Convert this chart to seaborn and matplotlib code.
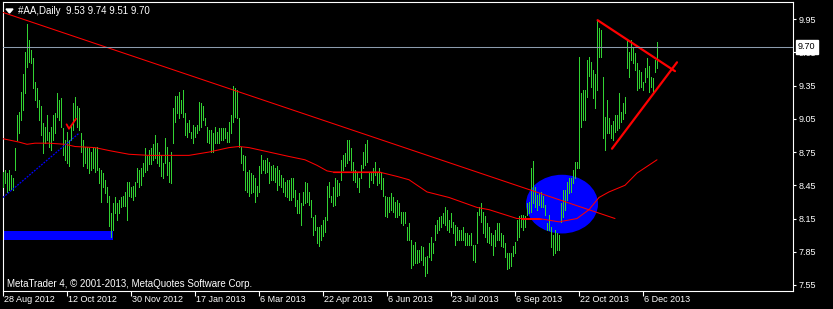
import matplotlib
matplotlib.use("Agg")
import matplotlib.pyplot as plt
import matplotlib.transforms as mtransforms
from matplotlib.patches import Ellipse, Rectangle, Polygon
import numpy as np
import pandas as pd
import seaborn as sns

# ---------------- data ----------------
highs = [
    8.57,8.59,8.56,8.59,8.54,8.52,8.79,9.08,9.11,9.29,9.45,9.65,9.91,9.76,9.67,9.60,9.38,9.33,9.22,9.17,9.01,8.98,9.08,8.93,8.98,9.08,9.10,9.28,9.22,9.24,8.97,8.86,8.93,8.86,8.99,9.19,9.25,9.17,9.15,8.92,8.86,8.80,8.80,8.79,8.75,8.80,8.79,8.80,8.61,
    8.59,8.56,8.50,8.43,8.35,8.20,8.29,8.34,8.29,8.32,8.34,8.35,8.39,8.48,8.48,8.43,8.44,8.48,8.61,8.59,8.61,8.65,8.79,8.71,8.77,8.79,8.82,8.90,8.83,8.75,8.72,8.65,8.88,8.80,8.66,8.75,9.15,9.26,9.26,9.29,9.22,9.31,9.10,9.01,9.04,8.93,8.99,
    8.98,8.99,9.20,9.19,9.17,9.06,8.98,8.95,8.95,8.92,8.98,8.93,8.97,8.97,8.97,8.97,8.93,9.02,9.08,9.35,9.33,9.31,9.06,8.80,8.72,8.71,8.57,8.59,8.56,8.54,8.52,8.44,8.62,8.72,8.68,8.68,8.70,8.66,8.62,8.63,8.61,8.62,8.59,8.54,8.52,8.48,8.50,
    8.50,8.52,8.52,8.41,8.32,8.38,8.29,8.39,8.48,8.47,8.39,8.32,8.16,8.18,8.07,8.07,8.09,8.14,8.16,8.44,8.48,8.35,8.43,8.52,8.50,8.47,8.68,8.72,8.74,8.86,8.86,8.79,8.66,8.59,8.57,8.52,8.63,8.75,8.82,8.86,8.57,8.56,8.61,8.66,8.56,8.61,8.56,8.52,
    8.35,8.34,8.34,8.38,8.34,8.30,8.32,8.29,8.21,8.21,8.21,8.07,8.11,7.96,7.91,7.94,7.87,7.87,7.90,7.89,7.80,7.81,7.93,7.98,7.93,8.09,8.14,8.16,8.17,8.20,8.25,8.23,8.14,8.20,8.12,8.09,8.07,8.05,8.05,8.07,8.02,8.02,8.00,8.02,7.91,7.91,8.21,8.25,
    8.29,8.21,8.17,8.11,8.07,8.02,8.00,8.05,8.11,8.11,8.02,8.00,7.93,7.84,7.84,7.84,7.90,7.94,8.14,8.17,8.18,8.18,8.17,8.29,8.30,8.61,8.67,8.43,8.36,8.38,8.39,8.35,8.27,8.11,8.18,8.07,8.00,8.05,8.02,8.00,8.29,8.41,8.41,8.48,8.52,8.52,8.59,
    8.66,8.66,9.61,9.28,9.31,9.31,9.58,9.61,9.56,9.49,9.45,9.94,9.87,9.85,9.43,9.07,9.22,9.06,8.99,9.03,9.08,9.08,9.28,9.11,9.19,9.25,9.76,9.65,9.76,9.70,9.64,9.55,9.49,9.47,9.38,9.51,9.60,9.53,9.43,9.42,9.58,9.74,
]
lows = [
    8.43,8.47,8.39,8.41,8.42,8.41,8.59,8.86,8.92,9.04,9.13,9.28,9.52,9.56,9.55,9.33,9.22,9.16,9.04,8.90,8.74,8.83,8.86,8.80,8.77,8.86,8.92,9.07,9.04,8.98,8.72,8.68,8.65,8.62,8.86,8.95,9.04,8.98,8.95,8.75,8.62,8.65,8.61,8.56,8.59,8.61,8.57,8.59,8.47,
    8.30,8.43,8.38,8.30,8.08,7.98,8.05,8.20,8.14,8.20,8.25,8.26,8.26,8.14,8.35,8.34,8.32,8.35,8.48,8.43,8.45,8.53,8.57,8.59,8.64,8.64,8.68,8.70,8.65,8.62,8.53,8.52,8.65,8.54,8.48,8.47,8.83,9.02,9.10,9.06,9.10,9.07,8.90,8.89,8.93,8.88,8.83,
    8.89,8.92,8.95,8.98,9.04,8.99,8.84,8.83,8.75,8.75,8.83,8.83,8.83,8.86,8.86,8.88,8.84,8.84,8.92,9.02,9.07,9.06,8.80,8.65,8.59,8.41,8.39,8.35,8.38,8.39,8.30,8.35,8.39,8.56,8.59,8.56,8.57,8.47,8.50,8.50,8.48,8.41,8.45,8.43,8.39,8.35,8.34,
    8.32,8.32,8.34,8.26,8.20,8.20,8.09,8.27,8.29,8.30,8.27,8.16,8.00,8.05,7.93,7.90,7.96,7.99,8.03,8.14,8.34,8.30,8.26,8.27,8.35,8.36,8.50,8.59,8.62,8.65,8.68,8.59,8.50,8.48,8.43,8.39,8.52,8.61,8.63,8.66,8.43,8.50,8.47,8.54,8.45,8.47,8.42,8.35,
    8.17,8.16,8.21,8.23,8.21,8.16,8.16,8.18,8.11,8.09,8.11,7.96,7.96,7.70,7.73,7.75,7.75,7.76,7.78,7.73,7.63,7.66,7.80,7.78,7.84,7.96,8.02,8.05,8.07,8.11,8.09,8.05,8.03,8.07,8.02,7.91,7.96,7.96,7.96,7.96,7.91,7.91,7.91,7.91,7.78,7.76,7.93,8.18,
    8.12,8.02,7.98,7.94,7.93,7.91,7.82,7.90,7.96,7.96,7.90,7.89,7.80,7.69,7.70,7.72,7.81,7.84,7.96,7.98,8.07,8.05,8.07,8.18,8.20,8.21,8.29,8.25,8.23,8.27,8.25,8.25,8.18,8.05,8.05,7.89,7.82,7.84,7.87,7.87,8.12,8.16,8.23,8.32,8.38,8.39,8.47,
    8.52,8.61,8.61,8.98,9.04,9.04,9.25,9.44,9.34,9.24,9.15,9.31,9.61,9.61,8.88,8.77,8.92,8.92,8.88,8.86,8.93,8.95,8.97,9.02,9.05,9.10,9.51,9.43,9.58,9.55,9.49,9.31,9.33,9.34,9.31,9.38,9.43,9.29,9.34,9.28,9.47,9.51,
]

# moving-average line, sampled at bar indices
ma_idx = [0, 8, 12, 16, 23, 31, 36, 46, 54, 63, 73, 83, 93, 103, 113, 118, 123, 133, 143, 151, 157, 162,
          165, 188, 197, 203, 212, 223, 237, 243, 257, 268, 278, 287, 293, 298, 303, 311, 317, 327]
ma_val = [8.87, 8.84, 8.82, 8.83, 8.83, 8.82, 8.80, 8.79, 8.76, 8.73, 8.72, 8.72, 8.72, 8.75, 8.79, 8.80, 8.79,
          8.75, 8.71, 8.68, 8.63, 8.58, 8.57, 8.57, 8.53, 8.50, 8.39, 8.34, 8.25, 8.23, 8.15, 8.15, 8.12, 8.15,
          8.23, 8.34, 8.39, 8.45, 8.56, 8.68]

date_ticks = [0, 32, 64, 96, 128, 160, 192, 224, 256, 288, 320]
date_labels = ["28 Aug 2012", "12 Oct 2012", "30 Nov 2012", "17 Jan 2013", "6 Mar 2013", "22 Apr 2013",
               "6 Jun 2013", "23 Jul 2013", "6 Sep 2013", "22 Oct 2013", "6 Dec 2013"]
price_ticks = [9.95, 9.65, 9.35, 9.05, 8.75, 8.45, 8.15, 7.85, 7.55]
last_price = 9.70
title_text = "#AA,Daily  9.53 9.74 9.51 9.70"
footer_text = "MetaTrader 4, \u00a9 2001-2013, MetaQuotes Software Corp."

# drawn objects (data coordinates)
long_trend_x, long_trend_y = [0, 306], [10.01, 8.15]
tri_upper_x, tri_upper_y = [297.3, 336], [9.94, 9.48]
tri_lower_x, tri_lower_y = [304.5, 337], [8.78, 9.56]
blue_dot_x, blue_dot_y = [0, 38], [8.34, 8.92]
check_x, check_y = [31.8, 33, 36.5], [9.00, 8.96, 9.05]
flat1_x, flat1_y = [165, 189], [8.57, 8.57]
flat2_x, flat2_y = [259, 269], [8.15, 8.15]
rect_x0, rect_x1, rect_y0, rect_y1 = -1, 55, 7.96, 8.04
circle_cx, circle_cy, circle_w, circle_h = 279.5, 8.28, 36, 0.53

# ---------------- style ----------------
sns.set_style("dark", rc={"axes.facecolor": "black", "figure.facecolor": "black"})
plt.rcParams["font.family"] = ["Liberation Sans", "DejaVu Sans"]

W, H = 833, 309
fig = plt.figure(figsize=(W / 100, H / 100), dpi=100)
fig.patch.set_facecolor("black")
L, R, T, B = 2.7, 793, 1.7, 291
ax = fig.add_axes([L / W, 1 - B / H, (R - L) / W, (B - T) / H])
ax.set_facecolor("black")

n = len(highs)
df = pd.DataFrame({"idx": np.arange(n), "high": highs, "low": lows})

# blue shapes (behind bars)
ax.add_patch(Rectangle((rect_x0, rect_y0), rect_x1 - rect_x0, rect_y1 - rect_y0,
                       facecolor="#0000ff", edgecolor="none", zorder=1))
ax.add_patch(Ellipse((circle_cx, circle_cy), circle_w, circle_h,
                     facecolor="#0000ff", edgecolor="none", zorder=1))

# OHLC bars (high-low), 1 px wide
ax.vlines(df["idx"], df["low"], df["high"], colors="#32d232", linewidth=0.45,
          antialiased=False, zorder=3)

# indicator / objects
ma_df = pd.DataFrame({"i": ma_idx, "v": ma_val})
sns.lineplot(data=ma_df, x="i", y="v", ax=ax, color="#ff0000", linewidth=0.75, zorder=4)
sns.lineplot(x=long_trend_x, y=long_trend_y, ax=ax, color="#ff0000", linewidth=0.75, zorder=4)
ax.plot(flat1_x, flat1_y, color="#ff0000", linewidth=0.85, zorder=4)
ax.plot(flat2_x, flat2_y, color="#ff0000", linewidth=0.75, zorder=4)
ax.plot(tri_upper_x, tri_upper_y, color="#ff0000", linewidth=1.6, zorder=4)
ax.plot(tri_lower_x, tri_lower_y, color="#ff0000", linewidth=1.6, zorder=4)
ax.plot(blue_dot_x, blue_dot_y, color="#0000ff", linewidth=0.9, linestyle=(0, (1.5, 1)), zorder=4)
ax.plot(check_x, check_y, color="#ff0000", linewidth=1.3, zorder=4)

# bid line
ax.axhline(last_price, color="#8c9cae", linewidth=0.75, zorder=5)

ax.set_xlim(-0.15, 395)
ax.set_ylim(7.4958, 10.107)

# frame
for s in ax.spines.values():
    s.set_color("white")
    s.set_linewidth(0.8)
    s.set_visible(True)

# right price axis
ax.yaxis.tick_right()
ax.set_yticks(price_ticks)
ax.set_yticklabels([f"{p:.2f}" for p in price_ticks])
ax.tick_params(axis="y", colors="white", direction="out", length=2.5, width=0.8,
               pad=1.8, labelsize=6.5, labelcolor="white", left=False, right=True)
ax.set_ylabel("")

# bottom date axis (labels left-aligned to the right of the tick)
ax.set_xticks(date_ticks)
ax.set_xticklabels([])
ax.tick_params(axis="x", colors="white", direction="out", length=3.5, width=0.8, bottom=True)
ax.set_xlabel("")
off = mtransforms.offset_copy(ax.get_xaxis_transform(), fig=fig, x=1.5, y=-4.5, units="dots")
for t, lab in zip(date_ticks, date_labels):
    ax.text(t, 0, lab, transform=off, ha="left", va="top", fontsize=6.5, color="white")

# last price box
ax.annotate(f"{last_price:.2f}", xy=(1.0, last_price), xycoords=("axes fraction", "data"),
            xytext=(3.5, 0), textcoords="offset points", ha="left", va="center",
            fontsize=6.5, color="black", zorder=10, annotation_clip=False,
            bbox=dict(boxstyle="square,pad=0.25", facecolor="white", edgecolor="white"))

# title + triangle + footer
fig.text(18 / W, 1 - 11 / H, title_text, ha="left", va="center", fontsize=7, color="white")
fig.patches.append(Polygon([[6 / W, 1 - 9 / H], [13 / W, 1 - 9 / H], [9.5 / W, 1 - 13 / H]],
                           closed=True, facecolor="white", edgecolor="white",
                           transform=fig.transFigure, figure=fig))
fig.text(7 / W, 1 - 284 / H, footer_text, ha="left", va="center", fontsize=7, color="white")

if ax.get_legend():
    ax.get_legend().remove()
fig.savefig("out.png", dpi=100, facecolor="black")
